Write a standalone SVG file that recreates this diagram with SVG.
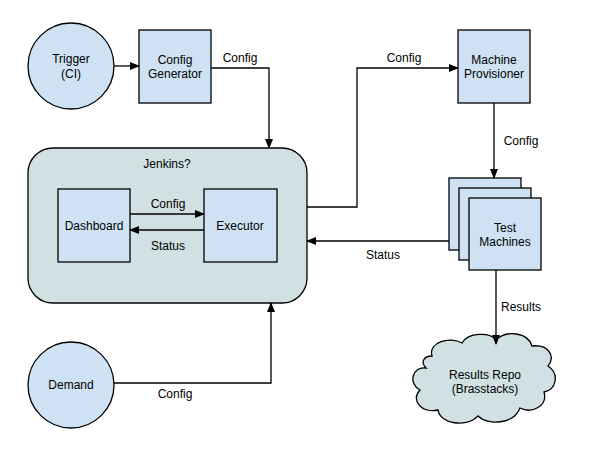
<svg xmlns="http://www.w3.org/2000/svg" width="600" height="450" viewBox="0 0 600 450">
<defs>
<marker id="ah" markerWidth="10" markerHeight="8" refX="9" refY="4" orient="auto" markerUnits="userSpaceOnUse"><path d="M0,0 L10,4 L0,8 z" fill="#000"/></marker>
<style>
text{font-family:"Liberation Sans",Arial,sans-serif;font-size:12px;fill:#000;text-anchor:middle}
.box{fill:#cfe2f3;stroke:#000;stroke-width:1.3}
.c{fill:none;stroke:#000;stroke-width:1.3;marker-end:url(#ah)}
.l{fill:none;stroke:#000;stroke-width:1.3}
</style>
</defs>
<g id="jenkins"><rect x="28" y="148" width="279" height="155" rx="25" fill="#d0e0e3" stroke="#000" stroke-width="1.3"/><text x="167" y="168">Jenkins?</text></g>
<g id="trigger"><circle cx="71" cy="66" r="43" class="box"/><text x="71" y="63">Trigger</text><text x="71" y="78">(CI)</text></g>
<g id="configgen"><rect x="139" y="30" width="72" height="73" class="box"/><text x="175" y="64">Config</text><text x="175" y="78">Generator</text></g>
<g id="dashboard"><rect x="58" y="189" width="72" height="73" class="box"/><text x="94" y="230">Dashboard</text></g>
<g id="executor"><rect x="204" y="189" width="73" height="73" class="box"/><text x="240" y="230">Executor</text></g>
<g id="provisioner"><rect x="458" y="30" width="72" height="73" class="box"/><text x="494" y="64">Machine</text><text x="494" y="78">Provisioner</text></g>
<g id="testmachines"><rect x="449" y="178" width="72" height="72" class="box"/><rect x="459" y="188" width="72" height="72" class="box"/><rect x="469" y="198" width="72" height="72" class="box"/><text x="505" y="232">Test</text><text x="505" y="246">Machines</text></g>
<g id="demand"><circle cx="71" cy="385" r="43" class="box"/><text x="71" y="389">Demand</text></g>
<g id="repo"><path d="M432,356 C428,342 450,336 462,343 C468,332 490,332 496,340 C506,330 528,332 532,346 C548,344 556,356 548,366 C560,374 556,390 544,392 C548,406 532,414 520,408 C514,424 488,426 478,416 C466,428 440,424 438,410 C422,414 410,400 420,390 C408,384 412,366 426,368 C420,362 424,356 432,356 Z" fill="#d0e0e3" stroke="#000" stroke-width="1.3"/><text x="485" y="379">Results Repo</text><text x="485" y="393">(Brasstacks)</text></g>
<g id="connectors">
<path class="c" d="M114,66 H139"/>
<path class="c" d="M211,68 H269 V148"/><text x="240" y="62">Config</text>
<path class="c" d="M130,214 H204"/><text x="168" y="208">Config</text>
<path class="c" d="M204,230 H130"/><text x="168" y="250">Status</text>
<path class="c" d="M307,207 H357 V68 H458"/><text x="404" y="62">Config</text>
<path class="c" d="M494,103 V178"/><text x="521" y="145">Config</text>
<path class="c" d="M449,241 H307"/><text x="383" y="259">Status</text>
<path class="c" d="M496,270 V344"/><text x="521" y="311">Results</text>
<path class="c" d="M114,383 H271 V303"/><text x="175" y="398">Config</text>
</g>
</svg>
